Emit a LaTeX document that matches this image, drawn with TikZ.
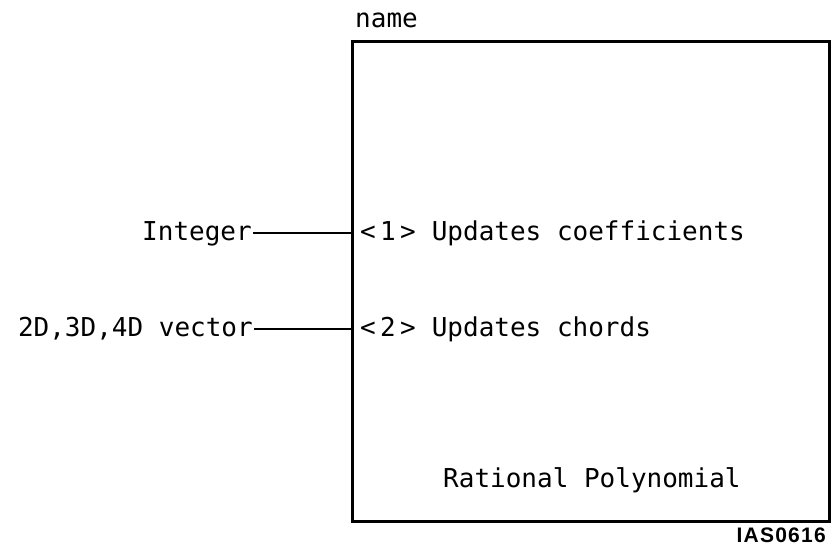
\documentclass[tikz,border=0pt]{standalone}
\usepackage{fontspec}
\usepackage{tikz}
\newfontfamily\gothicfont{DejaVu Sans Mono}
\newfontfamily\tagfont[LetterSpace=6]{Liberation Sans}

\begin{document}
\begin{tikzpicture}[x=1pt, y=-1pt,
  txt/.style={font=\gothicfont\fontsize{26}{28}\selectfont, inner sep=0pt},
  tag/.style={font=\tagfont\bfseries\fontsize{21}{24}\selectfont, inner sep=0pt},
  wire/.style={line width=2.8pt}]
  \useasboundingbox (0,0) rectangle (831,547);
  \node[draw, line width=3pt, minimum width=477pt, minimum height=480pt, inner sep=0pt, anchor=north west] (blk) at (351,40) {};
  \node[txt, anchor=base west] (nm) at (355,27) {name};
  \node[txt, anchor=base east] (int) at (252,240) {Integer};
  \node[txt, anchor=base east] (vec) at (253,336) {2D,3D,4D vector};
  \node[txt, anchor=base west] (p1) at (360,240) {<\,1\,>\hspace{16pt}Updates coefficients};
  \node[txt, anchor=base west] (p2) at (360,336) {<\,2\,>\hspace{16pt}Updates chords};
  \node[txt, anchor=base west] (typ) at (443,487) {Rational Polynomial};
  \node[tag, anchor=base east] (id) at (826,542) {IAS0616};
  \draw[wire] (int.base east) ++(1,-7) coordinate (a1) -- (a1 -| blk.west);
  \draw[wire] (vec.base east) ++(1,-7) coordinate (a2) -- (a2 -| blk.west);
\end{tikzpicture}
\end{document}
